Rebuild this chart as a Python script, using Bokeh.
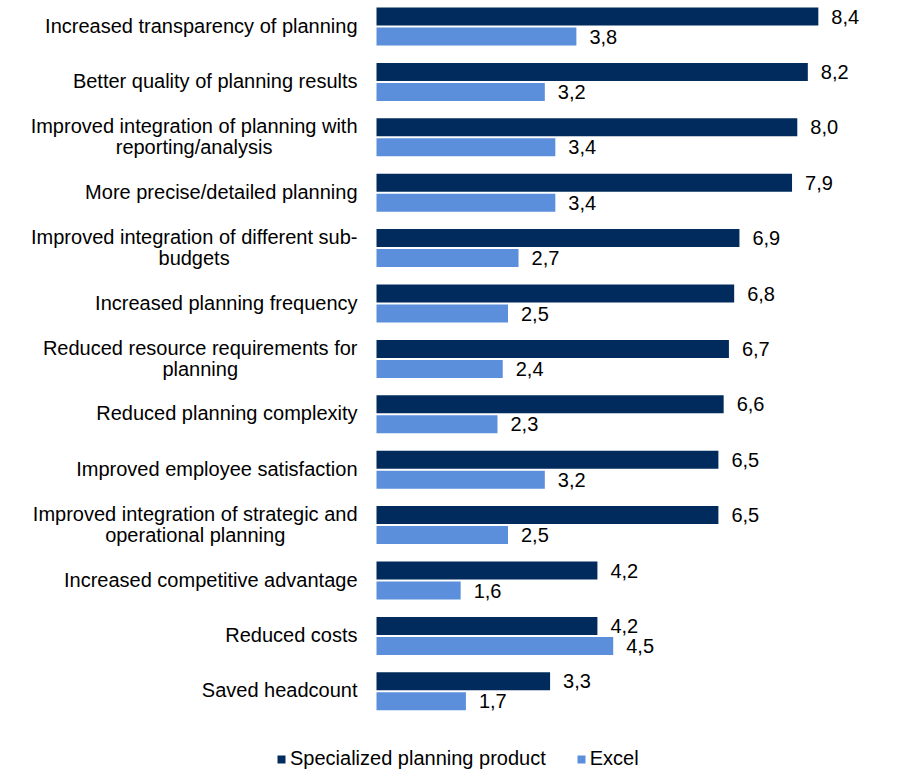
from bokeh.plotting import figure
from bokeh.models import ColumnDataSource, Range1d, Legend, LegendItem
from bokeh.transform import dodge
from bokeh.core.properties import value
from bokeh.embed import file_html
from bokeh.resources import INLINE

categories = [
    "Increased transparency of planning",
    "Better quality of planning results",
    "Improved integration of planning with\nreporting/analysis",
    "More precise/detailed planning",
    "Improved integration of different sub-\nbudgets",
    "Increased planning frequency",
    "Reduced resource requirements for\nplanning",
    "Reduced planning complexity",
    "Improved employee satisfaction",
    "Improved integration of strategic and\noperational planning",
    "Increased competitive advantage",
    "Reduced costs",
    "Saved headcount",
]
specialized = [8.4, 8.2, 8.0, 7.9, 6.9, 6.8, 6.7, 6.6, 6.5, 6.5, 4.2, 4.2, 3.3]
excel = [3.8, 3.2, 3.4, 3.4, 2.7, 2.5, 2.4, 2.3, 3.2, 2.5, 1.6, 4.5, 1.7]
series_names = ["Specialized planning product", "Excel"]

DARK = "#002B5C"
LIGHT = "#5B8FDC"
FONT = "Liberation Sans"
FS = 20

W, H = 896, 773
PX_X = 52.6      # pixels per value unit
PX_Y = 55.4      # pixels per category
zero_px = 376
first_center_px = 26

# Arial advance widths (per 1000 em) for estimating line widths
ARIAL = dict(zip("abcdefghijklmnopqrstuvwxyz",
                 [556, 556, 500, 556, 556, 278, 556, 556, 222, 222, 500, 222, 833,
                  556, 556, 556, 556, 333, 500, 278, 556, 500, 722, 500, 500, 500]))
ARIAL.update({" ": 278, "/": 278, "-": 333, "I": 278, "R": 722, "B": 667,
              "M": 833, "S": 667})

def text_w(s):
    return sum(ARIAL.get(c, 556) for c in s) * FS / 1000.0

def fmt(v):
    return f"{v:.1f}".replace(".", ",")

idx = list(range(len(categories)))
src = ColumnDataSource(dict(
    idx=idx,
    spec=specialized,
    exc=excel,
    spec_lbl=[fmt(v) for v in specialized],
    exc_lbl=[fmt(v) for v in excel],
))

# split labels into first / second lines (second line centred under the first)
line1, line1_dy, line2, line2_idx, line2_dx = [], [], [], [], []
for i, c in enumerate(categories):
    parts = c.split("\n")
    line1.append(parts[0])
    if len(parts) > 1:
        line1_dy.append(-11)
        line2.append(parts[1])
        line2_idx.append(i)
        line2_dx.append(-19 - text_w(parts[0]) / 2.0)
    else:
        line1_dy.append(-1)

src1 = ColumnDataSource(dict(idx=idx, txt=line1, dy=line1_dy, zero=[0] * len(idx)))
src2 = ColumnDataSource(dict(idx=line2_idx, txt=line2, dx=line2_dx, zero=[0] * len(line2)))

p = figure(width=W, height=H, output_backend="svg", toolbar_location=None,
           x_range=Range1d(-zero_px / PX_X, (W - zero_px) / PX_X),
           y_range=Range1d((H - first_center_px) / PX_Y, -first_center_px / PX_Y),
           min_border=0, outline_line_color=None)
p.axis.visible = False
p.grid.visible = False
p.background_fill_color = "white"

off = 10 / PX_Y
bh = 18 / PX_Y

r1 = p.hbar(y=dodge("idx", -off), left=0, right="spec", height=bh, source=src,
            fill_color=DARK, line_color=None)
r2 = p.hbar(y=dodge("idx", off), left=0, right="exc", height=bh, source=src,
            fill_color=LIGHT, line_color=None)

common = dict(text_font=value(FONT), text_font_size=f"{FS}px", text_color="black",
              text_baseline="middle")

p.text(x="spec", y=dodge("idx", -off), text="spec_lbl", source=src, x_offset=13,
       text_align="left", **common)
p.text(x="exc", y=dodge("idx", off), text="exc_lbl", source=src, x_offset=13,
       text_align="left", **common)

p.text(x="zero", y="idx", text="txt", source=src1, x_offset=-19, y_offset="dy",
       text_align="right", **common)
p.text(x="zero", y="idx", text="txt", source=src2, x_offset="dx", y_offset=10,
       text_align="center", **common)

legend = Legend(items=[LegendItem(label=series_names[0], renderers=[r1]),
                       LegendItem(label=series_names[1], renderers=[r2])],
                orientation="horizontal", location=(276, 3),
                glyph_width=10, glyph_height=10, label_standoff=4, spacing=30,
                padding=0, margin=0, border_line_color=None,
                background_fill_alpha=0, label_text_font=FONT,
                label_text_font_size=f"{FS}px", label_text_color="black")
p.add_layout(legend, "center")

open("out.html", "w").write(file_html(p, INLINE))
